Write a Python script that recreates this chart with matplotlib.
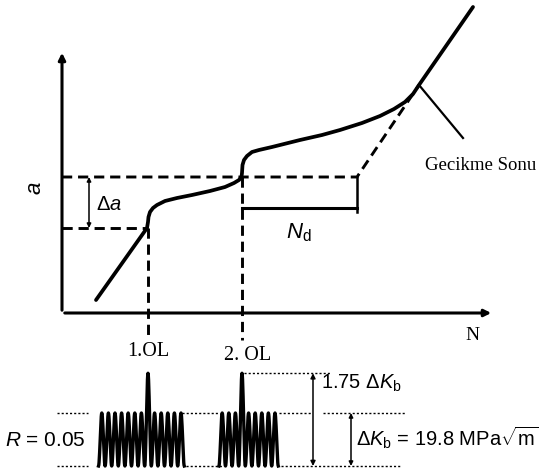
import numpy as np
import matplotlib.pyplot as plt

plt.rcParams['font.family'] = ['Liberation Sans', 'DejaVu Sans']
plt.rcParams['mathtext.fontset'] = 'custom'
plt.rcParams['mathtext.rm'] = 'Liberation Sans'
plt.rcParams['mathtext.it'] = 'Liberation Sans:italic'
plt.rcParams['mathtext.bf'] = 'Liberation Sans:bold'

# Crack length a vs. cycles N (schematic units)
N_curve = [34, 85, 86, 86.5, 88, 91, 95, 103, 115, 130, 148, 163, 172, 177, 179.5, 180,
           180.5, 182, 185, 190, 197, 210, 238, 260, 278, 300, 318, 332, 343, 351, 357, 411]
a_curve = [13, 85, 91, 96, 101, 105, 108, 112, 115, 118, 122, 126, 130, 133, 136, 140,
           148, 153, 157, 161, 163, 166, 173, 178, 183, 190, 197, 204, 211, 219, 228, 306]

N_ol = [86, 180]          # overload positions (1.OL, 2.OL)
a_ol = [85, 136]          # crack length at overloads
N_end = 295               # end of N_d bracket
N_delay_end, a_delay_end = 357, 228   # "Gecikme Sonu"

# Load spectrum
R = 0.05
ol_ratio = 1.75
cycles_before = [7, 3]
cycles_after = [5, 5]
period = 6.6
K_min, K_max = -153, -100

fig = plt.figure(figsize=(5.42, 4.75), dpi=100)
ax = fig.add_axes([0, 0, 1, 1])
ax.set_xlim(-62, 480)
ax.set_ylim(-162, 313)
ax.axis('off')

k = 'black'
serif = 'Liberation Serif'
# axes with arrows
ax.annotate('', xy=(0, 263), xytext=(0, 0),
            arrowprops=dict(arrowstyle='-|>', lw=2.2, color=k, mutation_scale=10))
ax.annotate('', xy=(432, 0), xytext=(0, 0),
            arrowprops=dict(arrowstyle='-|>', lw=2.2, color=k, mutation_scale=10))

# main curve
ax.plot(N_curve, a_curve, color=k, lw=2.7, solid_joinstyle='round', solid_capstyle='round')

dash = dict(color=k, lw=2.1, ls=(0, (3.5, 2)))
# horizontal dashed
ax.plot([0, N_ol[0]], [a_ol[0], a_ol[0]], **dash)
ax.plot([0, N_end, N_delay_end], [a_ol[1], a_ol[1], a_delay_end], **dash)
# vertical dashed
for n, a in zip(N_ol, a_ol):
    ax.plot([n, n], [a, -27], **dash)

# delta a arrow
ax.annotate('', xy=(27, a_ol[1]), xytext=(27, a_ol[0]),
            arrowprops=dict(arrowstyle='<|-|>', lw=1.1, color=k, mutation_scale=6,
                            shrinkA=0, shrinkB=0))
ax.text(34, 108, r'$\Delta a$', fontsize=14.5, va='center', ha='left')

# N_d bracket
ax.plot([N_ol[1], N_end], [105, 105], color=k, lw=2.2)
ax.plot([N_end, N_end], [101, a_ol[1]], color=k, lw=1.8)
ax.text(237, 80, r'$N_\mathrm{d}$', fontsize=16, va='center', ha='center')

# Gecikme Sonu leader
ax.plot([N_delay_end, 401], [a_delay_end, 175], color=k, lw=1.6)
ax.text(363, 147, 'Gecikme Sonu', fontsize=13.5, family=serif, va='center', ha='left')

ax.text(-27, 125, 'a', fontsize=16, style='italic', rotation=90, va='center', ha='center')
ax.text(410, -22, 'N', fontsize=14, family=serif, va='center', ha='center')
ax.text(N_ol[0], -38, '1.OL', fontsize=14.5, family=serif, va='center', ha='center')
ax.text(N_ol[1] + 6, -42, '2. OL', fontsize=14.5, family=serif, va='center', ha='center')

# waveform blocks
amp = K_max - K_min
for n0, nb, na in zip(N_ol, cycles_before, cycles_after):
    levels = [1] * nb + [ol_ratio] + [1] * na
    start = n0 - (nb + 0.5) * period
    xs, ys = [], []
    for i, lv in enumerate(levels):
        t = np.linspace(0, 1, 25)
        xs.extend(start + (i + t) * period)
        ys.extend(K_min + lv * amp * (1 - np.cos(2 * np.pi * t)) / 2)
    ax.plot(xs, ys, color=k, lw=2.4)

dot = dict(color=k, lw=1, ls=(0, (1.5, 1.5)))
for x0, x1 in [(-5, 26), (120, 156), (217, 249), (261, 344)]:
    ax.plot([x0, x1], [K_max, K_max], **dot)
for x0, x1 in [(-5, 26), (124, 160), (219, 338)]:
    ax.plot([x0, x1], [K_min, K_min], **dot)
ax.plot([N_ol[1] + 2, 268], [K_min + ol_ratio * amp] * 2, **dot)

ax.annotate('', xy=(251, K_min + ol_ratio * amp), xytext=(251, K_min),
            arrowprops=dict(arrowstyle='<|-|>', lw=1.1, color=k, mutation_scale=7,
                            shrinkA=0, shrinkB=0))
ax.annotate('', xy=(289, K_max), xytext=(289, K_min),
            arrowprops=dict(arrowstyle='<|-|>', lw=1.1, color=k, mutation_scale=6,
                            shrinkA=0, shrinkB=0))

ax.text(259, -70, r'1.75 $\Delta K_\mathrm{b}$', fontsize=14.5, va='center', ha='left')
ax.text(294, -125, r'$\Delta K_\mathrm{b}$ = 19.8 MPa$\sqrt{\mathrm{m}}$', fontsize=14.5,
        va='center', ha='left')
ax.text(-57, -127, r'$R$ = 0.05', fontsize=15, va='center', ha='left')

fig.savefig('out.png', dpi=100)
